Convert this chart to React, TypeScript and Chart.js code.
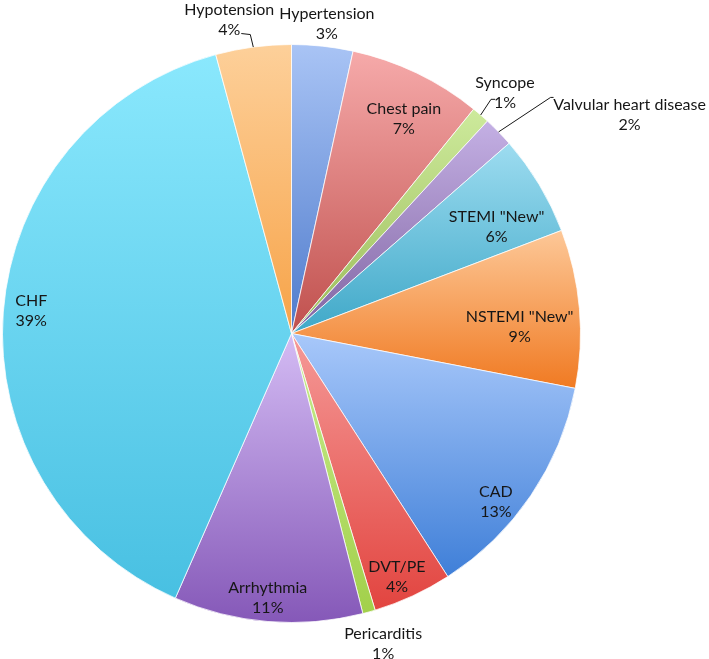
import React, { useEffect, useRef } from 'react';
import { Chart, ArcElement, PieController } from 'chart.js';

Chart.register(ArcElement, PieController);

// ---- data ----
const categories = [
  'Hypertension',
  'Chest pain',
  'Syncope',
  'Valvular heart disease',
  'STEMI "New"',
  'NSTEMI "New"',
  'CAD',
  'DVT/PE',
  'Pericarditis',
  'Arrhythmia',
  'CHF',
  'Hypotension',
];
const shares = [3.4, 7.4, 1.0, 1.7, 5.6, 8.8, 12.8, 4.4, 0.7, 10.5, 39.0, 4.2];

// ---- styles ----
const lightColors = [
  '#a9c4f5', '#f6aaaa', '#cdea9c', '#c4b0e4', '#9ddcf0', '#fdc898',
  '#a8c8fa', '#f59a98', '#c8ec90', '#d4bcf4', '#8ae8fd', '#fdd09a',
];
const darkColors = [
  '#4f7bcc', '#c0504d', '#9bbb59', '#8064a2', '#3fa8c8', '#f07a22',
  '#3f7fd8', '#e2443f', '#a2d04a', '#8558b8', '#48c0e2', '#f7a348',
];
// label placement: radius factor (of outer radius), dx, dy of the text block centre
const labelRadius = [1.076, 0.841, 1.113, 1.0, 0.8, 0.789, 0.917, 0.92, 1.118, 0.917, 0.903, 1.0];
const labelDx = [2, 7, 3, 131, 7, 1, -15, -6, 5, -2, 0, -24];
const labelDy = [0, 4, 3, -17.5, 13, 13.5, 20, 2, -1, 0, -3, -27];
// leader lines: [elbowDx, elbowDy, endDx, endDy] relative to text block centre
const leaders: (number[] | null)[] = [
  null, null, [-14, 6, -10, 6], [-79, -17, -76, -17], null, null,
  null, null, null, null, null, [21, 14.5, 12, 13.5],
];

const FONT = '16px Lato, "Open Sans", sans-serif';
const LINE_GAP = 20;

const labelPlugin = {
  id: 'sliceLabels',
  afterDatasetsDraw(chart: any) {
    const meta = chart.getDatasetMeta(0);
    const ctx = chart.ctx;
    const total = shares.reduce((a, b) => a + b, 0);
    ctx.save();
    ctx.font = FONT;
    ctx.fillStyle = '#161616';
    ctx.strokeStyle = '#161616';
    ctx.lineWidth = 1;
    ctx.textAlign = 'center';
    ctx.textBaseline = 'middle';
    meta.data.forEach((arc: any, i: number) => {
      const { x, y, startAngle, endAngle, outerRadius } = arc.getProps(
        ['x', 'y', 'startAngle', 'endAngle', 'outerRadius'],
        true
      );
      const mid = (startAngle + endAngle) / 2;
      const r = outerRadius * labelRadius[i];
      const lx = x + Math.cos(mid) * r + labelDx[i];
      const ly = y + Math.sin(mid) * r + labelDy[i];
      const ld = leaders[i];
      if (ld) {
        const sx = x + Math.cos(mid) * outerRadius;
        const sy = y + Math.sin(mid) * outerRadius;
        ctx.beginPath();
        ctx.moveTo(sx, sy);
        ctx.lineTo(lx + ld[0], ly + ld[1]);
        ctx.lineTo(lx + ld[2], ly + ld[3]);
        ctx.stroke();
      }
      const pct = Math.round((shares[i] / total) * 100) + '%';
      ctx.fillText(categories[i], lx, ly - LINE_GAP / 2);
      ctx.fillText(pct, lx, ly + LINE_GAP / 2);
    });
    ctx.restore();
  },
};

function sliceGradient(c: any) {
  const chart = c.chart;
  const i = c.dataIndex;
  const area = chart.chartArea;
  if (!area) return lightColors[i];
  const cx = (area.left + area.right) / 2;
  const cy = (area.top + area.bottom) / 2;
  const R = Math.min(area.right - area.left, area.bottom - area.top) / 2;
  const total = shares.reduce((a, b) => a + b, 0);
  let cum = 0;
  for (let k = 0; k < i; k++) cum += shares[k];
  const a0 = -Math.PI / 2 + (2 * Math.PI * cum) / total;
  const a1 = a0 + (2 * Math.PI * shares[i]) / total;
  let yMin = cy;
  let yMax = cy;
  for (let s = 0; s <= 40; s++) {
    const a = a0 + ((a1 - a0) * s) / 40;
    const yy = cy + Math.sin(a) * R;
    yMin = Math.min(yMin, yy);
    yMax = Math.max(yMax, yy);
  }
  if (yMax - yMin < 1) yMax = yMin + 1;
  const g = chart.ctx.createLinearGradient(cx, yMin, cx, yMax);
  g.addColorStop(0, lightColors[i]);
  g.addColorStop(1, darkColors[i]);
  return g;
}

export default function App() {
  const ref = useRef<HTMLCanvasElement | null>(null);
  useEffect(() => {
    if (!ref.current) return;
    const chart = new Chart(ref.current, {
      type: 'pie',
      data: {
        labels: categories,
        datasets: [
          {
            data: shares,
            backgroundColor: sliceGradient as any,
            borderColor: 'rgba(255,255,255,0.75)',
            borderWidth: 1,
          },
        ],
      },
      options: {
        responsive: false,
        animation: false,
        layout: { padding: { left: 2, right: 128, top: 44, bottom: 36 } },
        plugins: { legend: { display: false }, tooltip: { enabled: false } },
      },
      plugins: [labelPlugin],
    });
    return () => chart.destroy();
  }, []);
  return (
    <div style={{ position: 'absolute', left: 0, top: 0, width: 709, height: 659, background: '#fff' }}>
      <canvas ref={ref} width={709} height={659} />
    </div>
  );
}
